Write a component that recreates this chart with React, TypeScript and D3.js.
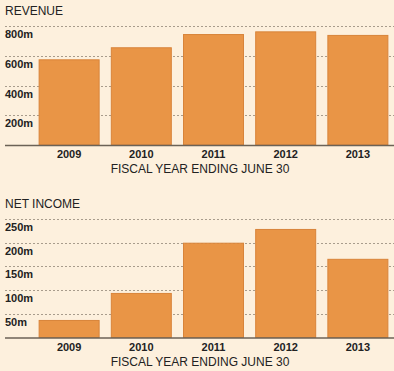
import React, { useEffect, useRef } from "react";
import * as d3 from "d3";

const years = ["2009", "2010", "2011", "2012", "2013"];
const revenue = [576, 657, 746, 764, 740];
const netIncome = [37, 94, 200, 229, 166];
const revenueTicks = [200, 400, 600, 800];
const incomeTicks = [50, 100, 150, 200, 250];

const W = 394;
const H = 371;

function drawPanel(g: any, title: string, values: number[], ticks: number[], top: number, bottom: number) {
  const x = d3.scaleBand()
    .domain(years)
    .range([33, 394])
    .paddingInner(0.155)
    .paddingOuter(0.078);

  const y = d3.scaleLinear()
    .domain([0, d3.max(ticks) as number])
    .range([bottom, top]);

  g.append("text")
    .attr("x", 5)
    .attr("y", top - 11)
    .style("font-family", "Arial, 'Liberation Sans', sans-serif")
    .style("font-size", "12px")
    .style("fill", "#222")
    .text(title);

  // gridlines
  g.selectAll(".grid")
    .data(ticks)
    .enter().append("line")
    .attr("x1", 5)
    .attr("x2", W)
    .attr("y1", (d: number) => Math.round(y(d)) + 0.5)
    .attr("y2", (d: number) => Math.round(y(d)) + 0.5)
    .attr("stroke", "#a89c8c")
    .attr("stroke-dasharray", "2,2");

  // tick labels under each gridline
  g.selectAll(".tick-label")
    .data(ticks)
    .enter().append("text")
    .attr("x", 5)
    .attr("y", (d: number) => y(d) + 12)
    .style("font-family", "Arial, 'Liberation Sans', sans-serif")
    .style("font-size", "11px")
    .style("font-weight", "bold")
    .style("fill", "#222")
    .text((d: number) => d + "m");

  g.selectAll(".bar")
    .data(values)
    .enter().append("rect")
    .attr("x", (d: number, i: number) => (x(years[i]) as number) + 0.5)
    .attr("width", x.bandwidth() - 1)
    .attr("y", (d: number) => y(d) + 0.5)
    .attr("height", (d: number) => bottom - y(d) - 0.5)
    .attr("fill", "#e99546")
    .attr("stroke", "#d8843a")
    .attr("stroke-width", 1);

  g.append("line")
    .attr("x1", 5)
    .attr("x2", W)
    .attr("y1", bottom + 0.5)
    .attr("y2", bottom + 0.5)
    .attr("stroke", "#6b6256")
    .attr("stroke-width", 1.5);

  g.selectAll(".year")
    .data(years)
    .enter().append("text")
    .attr("x", (d: string) => (x(d) as number) + x.bandwidth() / 2)
    .attr("y", bottom + 13)
    .attr("text-anchor", "middle")
    .style("font-family", "Arial, 'Liberation Sans', sans-serif")
    .style("font-size", "11px")
    .style("font-weight", "bold")
    .style("fill", "#222")
    .text((d: string) => d);

  g.append("text")
    .attr("x", 200)
    .attr("y", bottom + 28)
    .attr("text-anchor", "middle")
    .style("font-family", "Arial, 'Liberation Sans', sans-serif")
    .style("font-size", "12px")
    .style("fill", "#222")
    .text("FISCAL YEAR ENDING JUNE 30");
}

export default function App() {
  const ref = useRef<SVGSVGElement>(null);

  useEffect(() => {
    if (!ref.current) return;
    const svg = d3.select(ref.current);
    svg.selectAll("*").remove();

    svg.append("rect")
      .attr("width", W)
      .attr("height", H)
      .attr("fill", "#fdf0dd");

    drawPanel(svg.append("g"), "REVENUE", revenue, revenueTicks, 26, 145);
    drawPanel(svg.append("g"), "NET INCOME", netIncome, incomeTicks, 219, 337.5);
  }, []);

  return (
    <svg
      ref={ref}
      width={W}
      height={H}
      style={{ position: "absolute", left: 0, top: 0, display: "block" }}
    />
  );
}
